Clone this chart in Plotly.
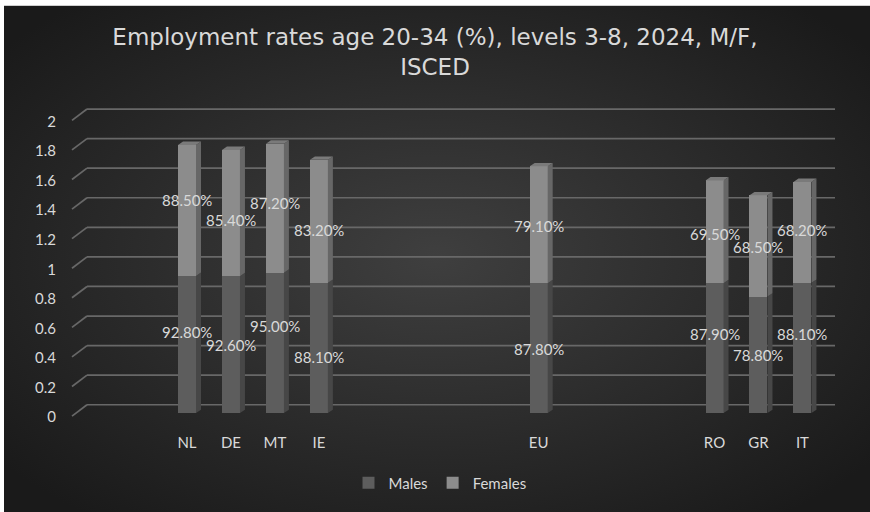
import plotly.graph_objects as go
from urllib.parse import quote

# ---------------- data ----------------
categories = ["NL", "DE", "MT", "IE", "", "", "", "", "EU", "", "", "", "RO", "GR", "IT"]
males = [0.928, 0.926, 0.950, 0.881, None, None, None, None, 0.878, None, None, None, 0.879, 0.788, 0.881]
females = [0.885, 0.854, 0.872, 0.832, None, None, None, None, 0.791, None, None, None, 0.695, 0.685, 0.682]
y_ticks = [0, 0.2, 0.4, 0.6, 0.8, 1.0, 1.2, 1.4, 1.6, 1.8, 2.0]
title_text = "Employment rates age 20-34 (%), levels 3-8, 2024, M/F,<br>ISCED"

# label vertical nudges (px, positive = down), style only
male_label_nudge = [-12.6, 0.6, -16.7, 8.9, 0, 0, 0, 0, 1.2, 0, 0, 0, -14.3, 0.5, -14.1]
female_label_nudge = [-10.5, 7.2, -4.8, 9.1, 0, 0, 0, 0, 1.6, 0, 0, 0, 1.9, 1.1, -2.8]

# ---------------- layout geometry ----------------
W, H = 870, 512
L, R, T, B = 70, 840, 105, 425
px_per_cat = 43.96
px_per_unit = 150.2
x_first_px = 187.0
y_zero_px = 418.0
x_range = [-(x_first_px - L) / px_per_cat, (len(categories) - 1) + (R - (x_first_px + (len(categories) - 1) * px_per_cat)) / px_per_cat]
y_range = [-(B - y_zero_px) / px_per_unit, (y_zero_px - T) / px_per_unit]

bar_w = 18 / px_per_cat
dx = 5 / px_per_cat
dy = 3.5 / px_per_unit

FONT = "Lato"
TXT = "#d9d9d9"
C_M_FRONT, C_M_SIDE = "#5d5d5d", "#474747"
C_F_FRONT, C_F_SIDE = "#8c8c8c", "#676767"
C_TOP = "#7a7a7a"
GRID = "#686868"

xs = list(range(len(categories)))

fig = go.Figure()

# 3D side faces & caps
def poly_trace(polys, color):
    px, py = [], []
    for p in polys:
        for (a, b) in p:
            px.append(a); py.append(b)
        px.append(p[0][0]); py.append(p[0][1])
        px.append(None); py.append(None)
    return go.Scatter(x=px, y=py, mode="lines", fill="toself", fillcolor=color,
                      line=dict(width=0, color=color), hoverinfo="skip", showlegend=False)

m_side, f_side, tops = [], [], []
for i, (m, f) in enumerate(zip(males, females)):
    if m is None:
        continue
    t = m + f
    xl, xr = i - bar_w / 2, i + bar_w / 2
    m_side.append([(xr, 0), (xr + dx, dy), (xr + dx, m + dy), (xr, m)])
    f_side.append([(xr, m), (xr + dx, m + dy), (xr + dx, t + dy), (xr, t)])
    tops.append([(xl, t), (xl + dx, t + dy), (xr + dx, t + dy), (xr, t)])

fig.add_trace(poly_trace(m_side, C_M_SIDE))
fig.add_trace(poly_trace(f_side, C_F_SIDE))
fig.add_trace(poly_trace(tops, C_TOP))

fig.add_trace(go.Bar(name="Males", x=xs, y=males, width=bar_w, marker=dict(color=C_M_FRONT, line=dict(width=0))))
fig.add_trace(go.Bar(name="Females", x=xs, y=females, width=bar_w, marker=dict(color=C_F_FRONT, line=dict(width=0))))

# data labels
annotations = []
for i, (m, f) in enumerate(zip(males, females)):
    if m is None:
        continue
    annotations.append(dict(x=i, y=m / 2, text=f"{m*100:.2f}%", showarrow=False, yshift=-male_label_nudge[i],
                            font=dict(family=FONT, size=15, color=TXT)))
    annotations.append(dict(x=i, y=m + f / 2, text=f"{f*100:.2f}%", showarrow=False, yshift=-female_label_nudge[i],
                            font=dict(family=FONT, size=15, color=TXT)))

# skewed 3D gridlines (back wall + left diagonal)
shapes = []
back_shift = 8.5 / px_per_unit
front_drop = 3 / px_per_unit
x_front = x_range[0] + (72 - L) / px_per_cat
x_back = x_range[0] + (87 - L) / px_per_cat
x_end = x_range[0] + (835 - L) / px_per_cat
for v in y_ticks:
    shapes.append(dict(type="line", xref="x", yref="y", x0=x_back, x1=x_end, y0=v + back_shift, y1=v + back_shift,
                       line=dict(color=GRID, width=1.7), layer="below"))
    shapes.append(dict(type="line", xref="x", yref="y", x0=x_front, x1=x_back, y0=v - front_drop, y1=v + back_shift,
                       line=dict(color=GRID, width=1.7), layer="below"))

# gradient background
IW, IH = W + 30, H + 30
svg = (f'<svg xmlns="http://www.w3.org/2000/svg" width="{IW}" height="{IH}" viewBox="0 0 {IW} {IH}" preserveAspectRatio="none">'
       '<defs><radialGradient id="g" cx="48%" cy="47%" r="62%">'
       '<stop offset="0%" stop-color="#3f3f3f"/><stop offset="100%" stop-color="#1a1a1a"/>'
       f'</radialGradient></defs><rect width="{IW}" height="{IH}" fill="url(#g)"/></svg>')
src = "data:image/svg+xml;charset=utf-8," + quote(svg)
pw, ph = R - L, B - T
images = [dict(source=src, xref="paper", yref="paper", x=(4 - L) / pw, y=(B - 4) / ph,
               sizex=IW / pw, sizey=IH / ph, xanchor="left", yanchor="top",
               sizing="stretch", layer="below")]

fig.update_layout(
    width=W, height=H,
    margin=dict(l=L, r=W - R, t=T, b=H - B, pad=0),
    paper_bgcolor="white", plot_bgcolor="rgba(0,0,0,0)",
    barmode="stack", bargap=0,
    title=dict(text=title_text, x=0.5, xanchor="center", xref="container", y=1 - 45 / H, yanchor="top",
               font=dict(family="DejaVu Sans", size=23, color=TXT)),
    xaxis=dict(range=x_range, tickvals=[i for i, c in enumerate(categories) if c], ticktext=[c for c in categories if c],
               showgrid=False, zeroline=False, showline=False, ticks="", ticklabelstandoff=12,
               tickfont=dict(family=FONT, size=15, color=TXT), fixedrange=True),
    yaxis=dict(range=y_range, tickvals=y_ticks, showgrid=False, zeroline=False, showline=False, ticks="",
               ticklabelstandoff=13, ticklabelshift=4, tickfont=dict(family=FONT, size=15, color=TXT), fixedrange=True),
    legend=dict(orientation="h", x=(440 - L) / pw, xanchor="center", y=(B - 489) / ph, yanchor="middle",
                font=dict(family=FONT, size=15, color=TXT), itemwidth=30, bgcolor="rgba(0,0,0,0)",
                traceorder="normal"),
    annotations=annotations, shapes=shapes, images=images,
    showlegend=True,
)

fig.write_html("out.html", config={"displayModeBar": False},
               post_script="document.body.style.margin='0';document.body.style.overflow='hidden';")
